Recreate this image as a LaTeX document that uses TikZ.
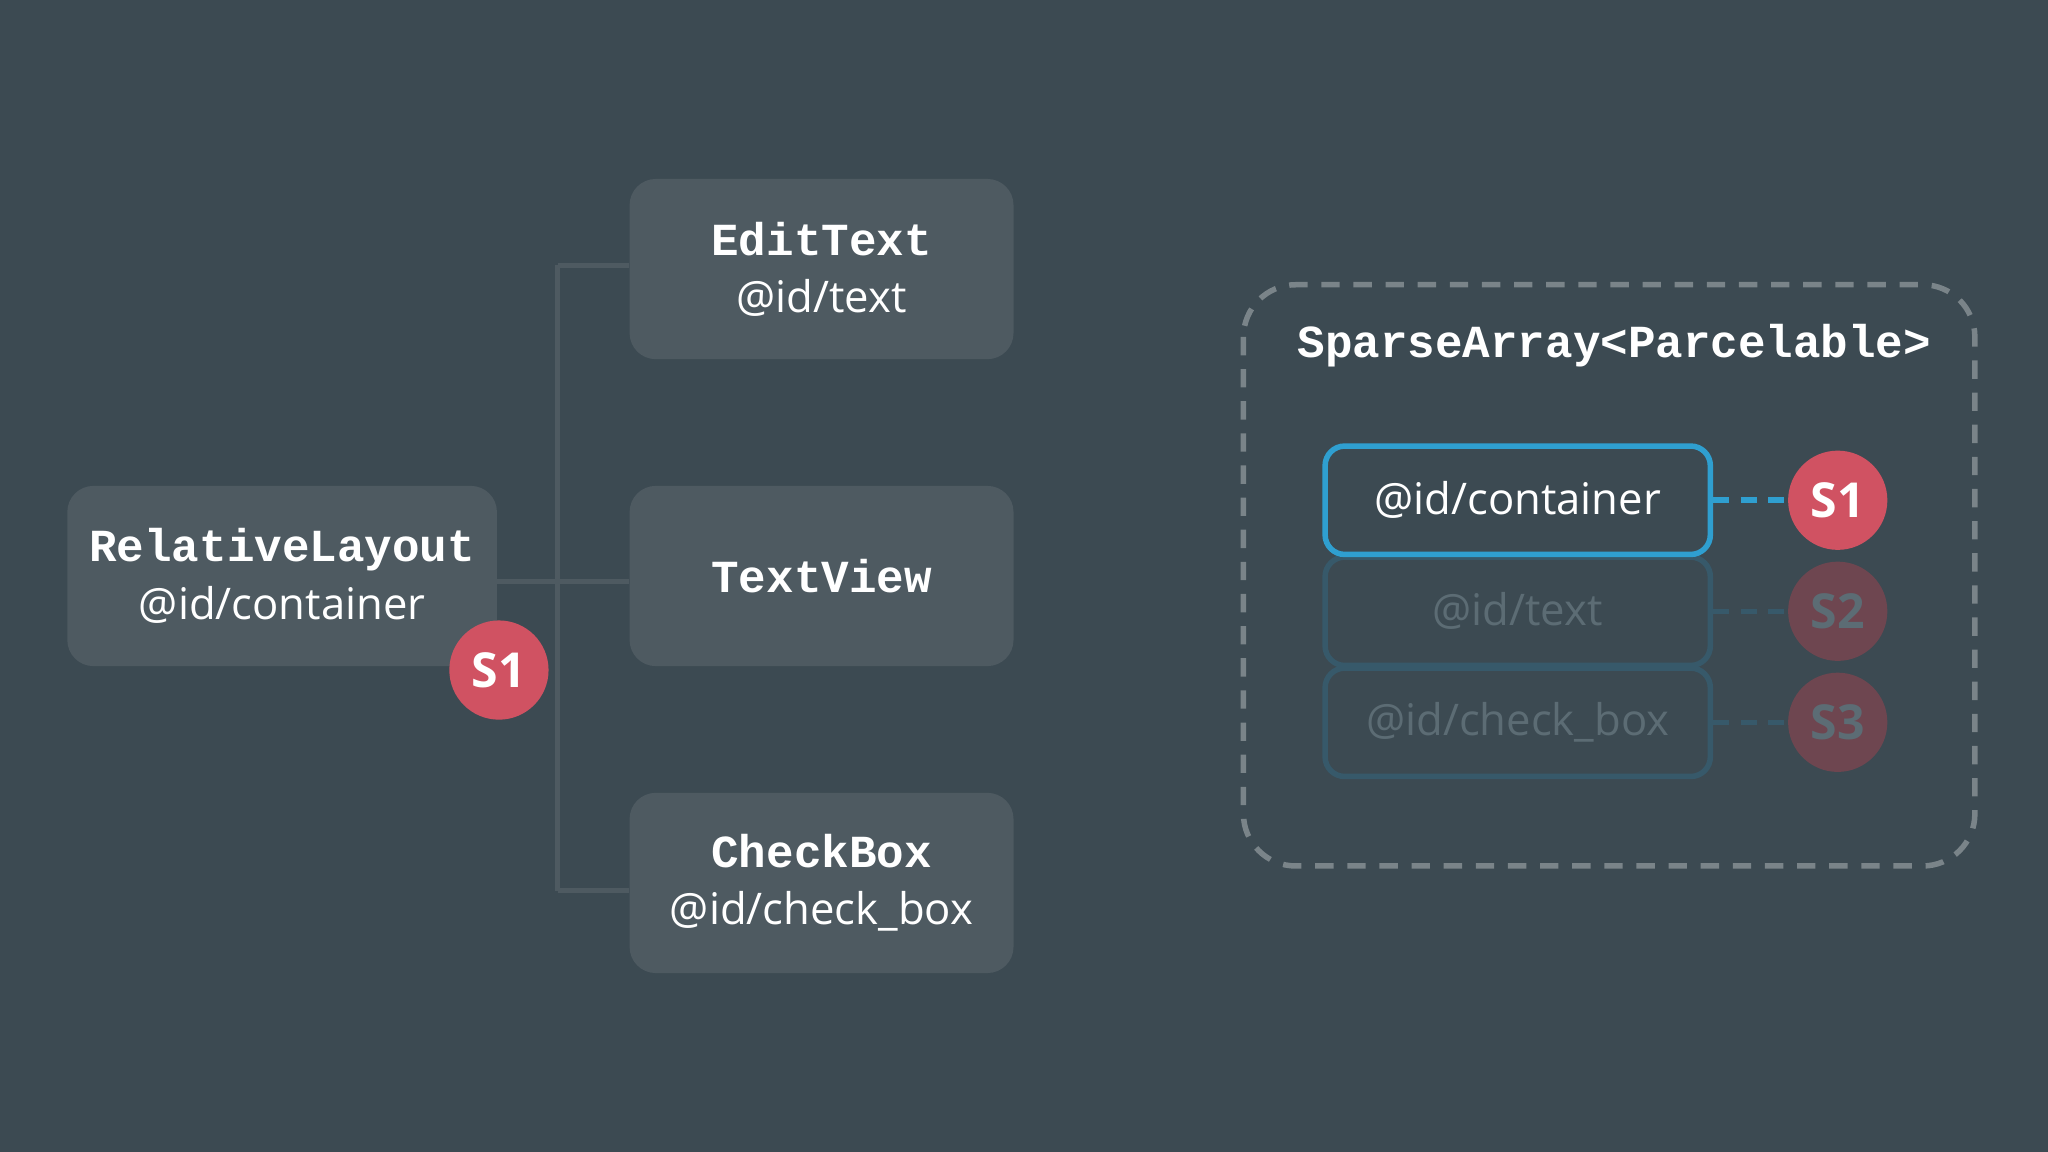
\documentclass[tikz,border=0pt]{standalone}
\usepackage{fontspec}
\setmainfont{Open Sans}
\setmonofont{Liberation Mono}
\definecolor{bg}{HTML}{3C4A52}
\definecolor{boxf}{HTML}{4E5A61}
\definecolor{redc}{HTML}{D05262}
\definecolor{bluec}{HTML}{2F9FD0}
\definecolor{fadeb}{HTML}{37596A}
\definecolor{fadet}{HTML}{5C6C74}
\definecolor{fader}{HTML}{6E4650}
\definecolor{dashc}{HTML}{7A8489}
\begin{document}
\begin{tikzpicture}[x=0.02cm,y=-0.02cm,
 vbox/.style={fill=boxf,rounded corners=0.4cm,minimum width=5.88cm,minimum height=2.76cm,align=center,text=white,font=\fontsize{19}{27}\selectfont},
 conn/.style={draw=boxf,line width=2.2pt},
 badge/.style={circle,fill=redc,minimum size=1.52cm,inner sep=0pt,text=white,font=\fontsize{21}{21}\selectfont\bfseries},
 slot/.style={rounded corners=0.3cm,minimum width=5.9cm,minimum height=1.66cm,line width=2.4pt,font=\fontsize{19}{19}\selectfont}]
\fill[bg] (0,0) rectangle (1568,882);
\useasboundingbox (0,0) rectangle (1568,882);
\coordinate (j) at (427,445);
\coordinate (jt) at (427,203);
\coordinate (jb) at (427,682);
\node[vbox] (et) at (629,206) {\texttt{\textbf{\fontsize{20}{27}\selectfont EditText}}\\[-2pt]@id/text};
\node[vbox] (tv) at (629,441) {\texttt{\textbf{\fontsize{20}{27}\selectfont TextView}}};
\node[vbox] (cb) at (629,676) {\texttt{\textbf{\fontsize{20}{27}\selectfont CheckBox}}\\[-2pt]@id/check\_box};
\node[vbox,minimum width=6.58cm] (rl) at (216,441) {\texttt{\textbf{\fontsize{20}{27}\selectfont RelativeLayout}}\\[-2pt]@id/container};
\draw[conn] (jt) -- (jb);
\draw[conn] (rl.east|-j) -- (tv.west|-j);
\draw[conn] (jt) -- (et.west|-jt);
\draw[conn] (jb) -- (cb.west|-jb);
\node[badge] (s1a) at (382,513) {S1};
\draw[dashc,line width=2.4pt,dash pattern=on 8pt off 6pt,rounded corners=0.8cm] (952,218) rectangle (1512,663);
\node[text=white,font=\ttfamily\bfseries\fontsize{20}{20}\selectfont] (sa) at (1236,265) {SparseArray<Parcelable>};
\node[slot,draw=fadeb,text=fadet] (t2) at (1162,553) {@id/check\_box};
\node[slot,draw=fadeb,text=fadet] (t1) at (1162,468) {@id/text};
\node[slot,draw=bluec,text=white] (t0) at (1162,383) {@id/container};
\node[badge] (b1) at (1407,383) {S1};
\node[badge,fill=fader,text=fadet] (b2) at (1407,468) {S2};
\node[badge,fill=fader,text=fadet] (b3) at (1407,553) {S3};
\draw[bluec,line width=2.4pt,dash pattern=on 7pt off 5pt] (t0.east) -- (b1.west);
\draw[fadeb,line width=2.4pt,dash pattern=on 7pt off 5pt] (t1.east) -- (b2.west);
\draw[fadeb,line width=2.4pt,dash pattern=on 7pt off 5pt] (t2.east) -- (b3.west);
\end{tikzpicture}
\end{document}
